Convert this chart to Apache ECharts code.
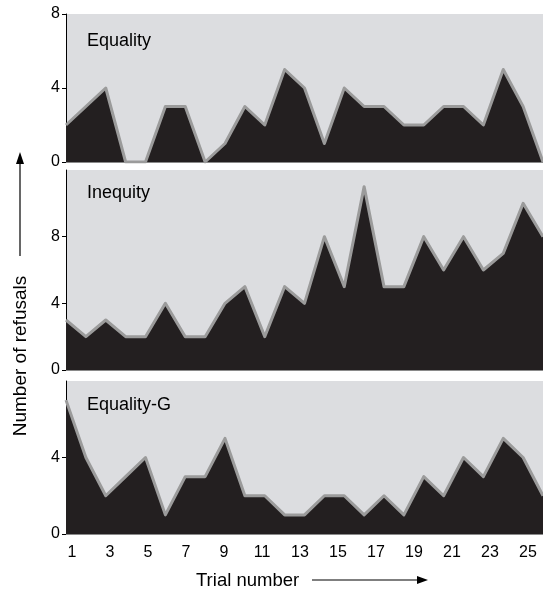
<!DOCTYPE html>
<html>
<head>
<meta charset="utf-8">
<script src="https://cdn.jsdelivr.net/npm/echarts@6/dist/echarts.min.js"></script>
<style>
html,body{margin:0;padding:0;background:#fff;}
#c{width:543px;height:591px;}
</style>
</head>
<body>
<div id="c"></div>
<script>
var trials = ['1','2','3','4','5','6','7','8','9','10','11','12','13','14','15','16','17','18','19','20','21','22','23','24','25'];
var tickLabels = ['1','3','5','7','9','11','13','15','17','19','21','23','25'];
var equality = [2,3,4,0,0,3,3,0,1,3,2,5,4,1,4,3,3,2,2,3,3,2,5,3,0];
var inequity = [3,2,3,2,2,4,2,2,4,5,2,5,4,8,5,11,5,5,8,6,8,6,7,10,8];
var equalityG = [7,4,2,3,4,1,3,3,5,2,2,1,1,2,2,1,2,1,3,2,4,3,5,4,2];
var panelNames = ['Equality','Inequity','Equality-G'];

var FONT = '"Liberation Sans", Arial, Helvetica, sans-serif';
var chart = echarts.init(document.getElementById('c'), null, {renderer:'canvas'});

var grids = [
  {left:66, right:0, top:14, height:148},
  {left:66, right:0, top:170, height:200},
  {left:66, right:0, top:381, height:153},
  {left:72, right:15, top:533, height:1}
];
grids.forEach(function(g, i){
  if (i < 3) { g.show = true; g.backgroundColor = '#dcdde0'; g.borderWidth = 0; }
});

function yAx(idx, max, hideMax){
  return {
    type:'value', gridIndex:idx, min:0, max:max, interval:4,
    axisLine:{show:true, lineStyle:{color:'#000', width:1}},
    axisTick:{show:true, length:4, lineStyle:{color:'#000', width:1}},
    axisLabel:{color:'#000', fontSize:16, fontFamily:FONT, margin:6, showMaxLabel: hideMax ? false : true},
    splitLine:{show:false}
  };
}
function xAx(idx){
  return {
    type:'category', gridIndex:idx, data:trials, boundaryGap:false,
    axisLine:{show:true, lineStyle:{color:'#8a8a8a', width:1}},
    axisTick:{show:false}, axisLabel:{show:false}, splitLine:{show:false}
  };
}
function ser(idx, data, name){
  return {
    type:'line', name:name, xAxisIndex:idx, yAxisIndex:idx, data:data,
    symbol:'none', smooth:false,
    lineStyle:{color:'#9b9b9b', width:3, join:'round'},
    areaStyle:{color:'#231f20', opacity:1, origin:'start'},
    silent:true, animation:false
  };
}

var option = {
  animation:false,
  backgroundColor:'#fff',
  grid:grids,
  xAxis:[xAx(0), xAx(1), xAx(2), {
    type:'category', gridIndex:3, data:tickLabels, boundaryGap:false,
    axisLine:{show:false}, axisTick:{show:false}, splitLine:{show:false},
    axisLabel:{color:'#000', fontSize:16, fontFamily:FONT, margin:11, interval:0}
  }],
  yAxis:[yAx(0,8,false), yAx(1,12,true), yAx(2,8,true), {type:'value', gridIndex:3, show:false}],
  series:[ser(0, equality, panelNames[0]), ser(1, inequity, panelNames[1]), ser(2, equalityG, panelNames[2])],
  graphic:[
    {type:'text', left:87, top:32, style:{text:panelNames[0], fontSize:18, fontFamily:FONT, fill:'#000'}},
    {type:'text', left:87, top:184, style:{text:panelNames[1], fontSize:18, fontFamily:FONT, fill:'#000'}},
    {type:'text', left:87, top:396, style:{text:panelNames[2], fontSize:18, fontFamily:FONT, fill:'#000'}},
    {type:'text', left:196, top:571, style:{text:'Trial number', fontSize:18.5, fontFamily:FONT, fill:'#000'}},
    {type:'line', shape:{x1:312, y1:580, x2:420, y2:580}, style:{stroke:'#000', lineWidth:1.2}},
    {type:'polygon', shape:{points:[[428,580],[417,576],[417,584]]}, style:{fill:'#000'}},
    {type:'text', x:21, y:356, rotation:Math.PI/2, style:{text:'Number of refusals', fontSize:19, fontFamily:FONT, fill:'#000', align:'center', verticalAlign:'middle'}},
    {type:'line', shape:{x1:20, y1:256, x2:20, y2:162}, style:{stroke:'#000', lineWidth:1.2}},
    {type:'polygon', shape:{points:[[20,152],[16,164],[24,164]]}, style:{fill:'#000'}}
  ]
};
chart.setOption(option);
</script>
</body>
</html>
